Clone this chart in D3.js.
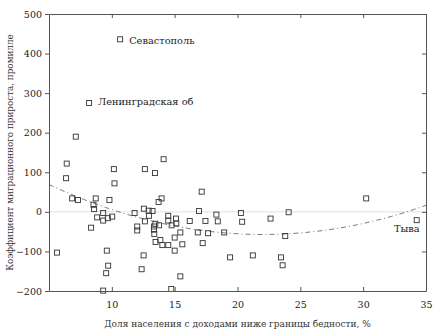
<!DOCTYPE html>
<html>
<head>
<meta charset="utf-8">
<script src="https://cdn.jsdelivr.net/npm/d3@7"></script>
<style>
  body { margin: 0; background: #fff; }
</style>
</head>
<body>
<div id="dataViz"></div>
<script>
const margin = { top: 14, right: 17, bottom: 42, left: 49 };
const width = 443;
const height = 333;
const serif = "'DejaVu Serif', 'Liberation Serif', serif";

// Poverty share, % (x) and migration rate, per mille (y)
const poverty = [10.66, 8.19, 7.13, 6.41, 6.36, 6.84, 7.31, 5.64, 8.35, 8.72,
  8.54, 8.59, 8.83, 9.31, 9.31, 9.68, 10.03, 9.81, 10.16, 10.21,
  9.60, 9.71, 9.55, 9.31, 11.81, 12.02, 12.02, 12.37, 12.53, 12.63,
  12.55, 12.63, 12.93, 12.95, 13.24, 13.43, 14.12, 13.96, 13.72, 13.35,
  13.46, 13.35, 13.38, 13.48, 13.75, 13.86, 14.02, 14.49, 14.49, 14.49,
  14.76, 15.0, 15.0, 15.11, 15.13, 15.45, 15.61, 15.45, 14.73, 16.2,
  16.94, 17.15, 16.84, 17.23, 17.45, 17.66, 18.32, 18.43, 18.94, 19.41,
  20.27, 20.37, 21.22, 22.63, 23.46, 23.59, 23.80, 24.07, 30.24, 34.26];
const migration = [436, 275, 190, 122, 85, 34, 30, -103, -40, 34,
  18, 7, -14, -3, -22, -16, -12, 30, 108, 72,
  -98, -136, -155, -199, -3, -37, -47, -145, -110, 108,
  8, -24, 3, -10, 2, 98, 133, 34, 25, -37,
  -30, -45, -56, -76, -34, -71, -84, -84, -10, -22,
  -34, -65, -98, -17, -29, -52, -82, -163, -195, -23,
  2, 51, -52, -79, -23, -54, -7, -24, -52, -115,
  -3, -25, -110, -17, -115, -135, -61, -1, 34, -21];

// Labelled regions: index into the arrays above
const labelNames = ["Севастополь", "Ленинградская об", "Тыва"];
const labelIndex = [0, 1, 79];

const xTicks = [10, 15, 20, 25, 30, 35];
const yTicks = [-200, -100, 0, 100, 200, 300, 400, 500];

const data = poverty.map((x, i) => ({ x: x, y: migration[i] }));

const svg = d3.select("#dataViz").append("svg")
  .attr("width", width).attr("height", height)
  .style("font-family", serif);

const xScale = d3.scaleLinear().domain([5, 35]).range([margin.left, width - margin.right]);
const yScale = d3.scaleLinear().domain([-200, 500]).range([height - margin.bottom, margin.top]);

// zero line
svg.append("line")
  .attr("x1", xScale(5)).attr("x2", xScale(35))
  .attr("y1", yScale(0)).attr("y2", yScale(0))
  .attr("stroke", "#e0e0e0").attr("stroke-width", 1);

// quadratic least-squares trend
const n = data.length;
let s = { x: 0, x2: 0, x3: 0, x4: 0, y: 0, xy: 0, x2y: 0 };
data.forEach(d => {
  s.x += d.x; s.x2 += d.x ** 2; s.x3 += d.x ** 3; s.x4 += d.x ** 4;
  s.y += d.y; s.xy += d.x * d.y; s.x2y += d.x * d.x * d.y;
});
function solve3(A, b) {
  const M = A.map((r, i) => r.concat([b[i]]));
  for (let i = 0; i < 3; i++) {
    for (let k = i + 1; k < 3; k++) {
      const f = M[k][i] / M[i][i];
      for (let j = i; j < 4; j++) M[k][j] -= f * M[i][j];
    }
  }
  const r = [0, 0, 0];
  for (let i = 2; i >= 0; i--) {
    let v = M[i][3];
    for (let j = i + 1; j < 3; j++) v -= M[i][j] * r[j];
    r[i] = v / M[i][i];
  }
  return r;
}
const coef = solve3(
  [[n, s.x, s.x2], [s.x, s.x2, s.x3], [s.x2, s.x3, s.x4]],
  [s.y, s.xy, s.x2y]);
const fit = d3.range(5, 35.01, 0.25).map(x => ({ x: x, y: coef[0] + coef[1] * x + coef[2] * x * x }));

const line = d3.line().x(d => xScale(d.x)).y(d => yScale(d.y));
svg.append("path")
  .datum(fit)
  .attr("fill", "none")
  .attr("stroke", "#777")
  .attr("stroke-width", 1)
  .attr("stroke-dasharray", "5,3,1,3")
  .attr("d", line);

// points
svg.selectAll(".pt")
  .data(data)
  .enter()
  .append("rect")
  .attr("class", "pt")
  .attr("x", d => xScale(d.x) - 2.5)
  .attr("y", d => yScale(d.y) - 2.5)
  .attr("width", 5)
  .attr("height", 5)
  .attr("fill", "none")
  .attr("stroke", "#333")
  .attr("stroke-width", 0.9);

// point labels
const labelDx = [9, 9, 3];
const labelDy = [5, 2, 12];
const labelAnchor = ["start", "start", "end"];
svg.selectAll(".lbl")
  .data(labelIndex)
  .enter()
  .append("text")
  .attr("x", (d, i) => xScale(data[d].x) + labelDx[i])
  .attr("y", (d, i) => yScale(data[d].y) + labelDy[i])
  .attr("text-anchor", (d, i) => labelAnchor[i])
  .style("font-family", serif)
  .attr("fill", "#222")
  .style("font-size", "9.8px")
  .text((d, i) => labelNames[i]);

// axes
const axisColor = "#555";
const axBottom = svg.append("g")
  .attr("transform", `translate(0, ${height - margin.bottom})`)
  .call(d3.axisBottom(xScale).tickValues(xTicks).tickSizeInner(-4).tickSizeOuter(0).tickPadding(10));
const axTop = svg.append("g")
  .attr("transform", `translate(0, ${margin.top})`)
  .call(d3.axisTop(xScale).tickValues(xTicks).tickSizeInner(-4).tickSizeOuter(0).tickFormat(""));
const axLeft = svg.append("g")
  .attr("transform", `translate(${margin.left}, 0)`)
  .call(d3.axisLeft(yScale).tickValues(yTicks).tickSizeInner(4).tickSizeOuter(0).tickPadding(3));
const axRight = svg.append("g")
  .attr("transform", `translate(${width - margin.right}, 0)`)
  .call(d3.axisRight(yScale).tickValues(yTicks).tickSizeInner(-4).tickSizeOuter(0).tickFormat(""));

[axBottom, axTop, axLeft, axRight].forEach(g => {
  g.attr("font-family", null).attr("font-size", null);
  g.selectAll("path, line").attr("stroke", axisColor);
  g.selectAll("text").attr("fill", "#222")
    .style("font-family", serif).style("font-size", "9.5px");
});

// axis titles
svg.append("text")
  .attr("x", (margin.left + width - margin.right) / 2)
  .attr("y", height - 6)
  .style("font-family", serif)
  .attr("fill", "#333")
  .style("text-anchor", "middle")
  .style("font-size", "9px")
  .text("Доля населения с доходами ниже границы бедности, %");

svg.append("text")
  .attr("transform", "rotate(-90)")
  .attr("x", -(margin.top + height - margin.bottom) / 2)
  .attr("y", 13)
  .style("font-family", serif)
  .attr("fill", "#333")
  .style("text-anchor", "middle")
  .style("font-size", "8.8px")
  .text("Коэффициент миграционного прироста, промилле");
</script>
</body>
</html>
